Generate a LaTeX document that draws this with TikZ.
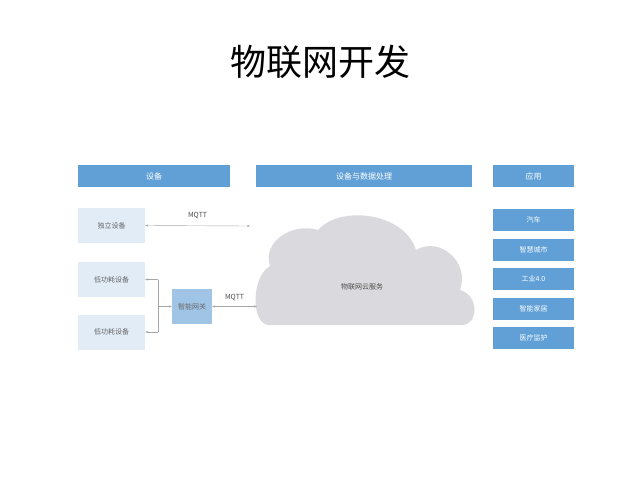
\documentclass[tikz,border=0pt]{standalone}
\usepackage{fontspec}
\setmainfont{Noto Sans CJK SC}
\usetikzlibrary{arrows.meta}
\definecolor{headblue}{RGB}{96,160,214}
\definecolor{lightblue}{RGB}{226,236,247}
\definecolor{gateblue}{RGB}{160,196,230}
\definecolor{cloudgray}{RGB}{218,218,222}
\tikzstyle{head} = [rectangle, fill=headblue, text=white, font=\fontsize{8}{9}\selectfont, inner sep=0pt]
\tikzstyle{app} = [rectangle, fill=headblue, text=white, font=\fontsize{7}{8}\selectfont, minimum width=81pt, minimum height=22pt, inner sep=0pt]
\tikzstyle{dev} = [rectangle, fill=lightblue, text=black!60, font=\fontsize{7}{8}\selectfont, minimum width=67pt, minimum height=35pt, inner sep=0pt]
\tikzstyle{conn} = [gray!70, thin, arrows={Stealth[length=3pt]-Stealth[length=3pt]}]
\begin{document}
\begin{tikzpicture}[x=1pt, y=-1pt]
        \useasboundingbox (0,0) rectangle (640,480);
        \node[font=\fontsize{36}{38}\selectfont] (title) at (320,62) {物联网开发};

        \node[head, minimum width=152pt, minimum height=22pt] (h1) at (154,176) {设备};
        \node[head, minimum width=216pt, minimum height=22pt] (h2) at (364,176) {设备与数据处理};
        \node[head, minimum width=81pt, minimum height=22pt] (h3) at (533.5,176) {应用};

        \node[dev] (d1) at (111.5,225.5) {独立设备};
        \node[dev] (d2) at (111.5,279.5) {低功耗设备};
        \node[dev] (d3) at (111.5,332) {低功耗设备};
        \node[dev, fill=gateblue, minimum width=40pt] (gw) at (192,306.5) {智能网关};

        % cloud
        \fill[cloudgray] (268,325) -- (462,325)
            .. controls (478,325) and (480,296) .. (460,290)
            .. controls (470,262) and (440,236) .. (416,250)
            .. controls (404,212) and (340,205) .. (318,230)
            .. controls (292,222) and (262,242) .. (270,266)
            .. controls (252,276) and (250,322) .. (268,325) -- cycle;
        \node[font=\fontsize{7}{8}\selectfont, text=black!70] (cloud) at (362,287) {物联网云服务};
        \coordinate (cw) at (257,306.5);
        \coordinate (m1) at (250,226);

        \node[app] (a1) at (533.5,220) {汽车};
        \node[app] (a2) at (533.5,250) {智慧城市};
        \node[app] (a3) at (533.5,279) {工业4.0};
        \node[app] (a4) at (533.5,309) {智能家居};
        \node[app] (a5) at (533.5,338) {医疗监护};

        \coordinate (j) at (158,306.5);
        \draw[conn] (d1.east) -- (m1) node[midway, above=3pt, text=black!70, font=\fontsize{7}{8}\selectfont] {MQTT};
        \draw[conn] (gw.east) -- (cw) node[midway, above=2pt, text=black!70, font=\fontsize{7}{8}\selectfont] {MQTT};
        \draw[gray!70, thin, -{Stealth[length=3pt]}] (d2.east -| j) -- (d2.east);
        \draw[gray!70, thin, -{Stealth[length=3pt]}] (d3.east -| j) -- (d3.east);
        \draw[gray!70, thin] (d2.east -| j) -- (d3.east -| j);
        \draw[gray!70, thin, -{Stealth[length=3pt]}] (j) -- (gw.west);
\end{tikzpicture}
\end{document}
